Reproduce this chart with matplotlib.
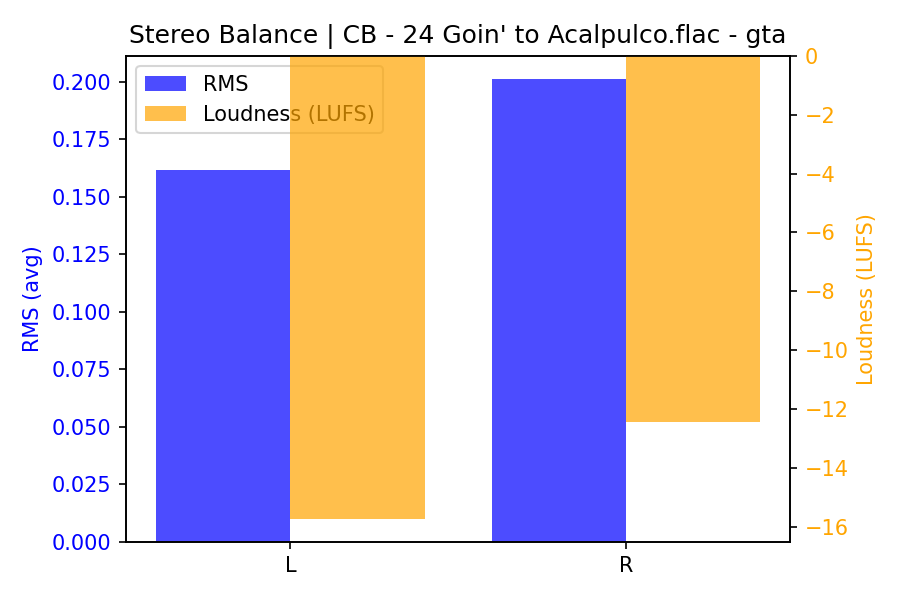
import numpy as np
import matplotlib
matplotlib.use('Agg')
import matplotlib.pyplot as plt

channels = ['L', 'R']
rms = [0.1617, 0.2013]
lufs = [-15.73, -12.43]

x = np.arange(len(channels))
width = 0.4

fig, ax1 = plt.subplots(figsize=(6, 4), dpi=150)
b1 = ax1.bar(x - width / 2, rms, width, color='blue', alpha=0.7, label='RMS')
ax1.set_ylabel('RMS (avg)', color='blue')
ax1.tick_params(axis='y', labelcolor='blue')
ax1.set_xticks(x)
ax1.set_xticklabels(channels)

ax2 = ax1.twinx()
b2 = ax2.bar(x + width / 2, lufs, width, color='orange', alpha=0.7, label='Loudness (LUFS)')
ax2.set_ylabel('Loudness (LUFS)', color='orange')
ax2.tick_params(axis='y', labelcolor='orange')

ax1.legend([b1, b2], ['RMS', 'Loudness (LUFS)'], loc='upper left')
plt.title("Stereo Balance | CB - 24 Goin' to Acalpulco.flac - gta")
fig.subplots_adjust(left=0.14, right=0.878, top=0.907, bottom=0.097)
plt.savefig('out.png')
